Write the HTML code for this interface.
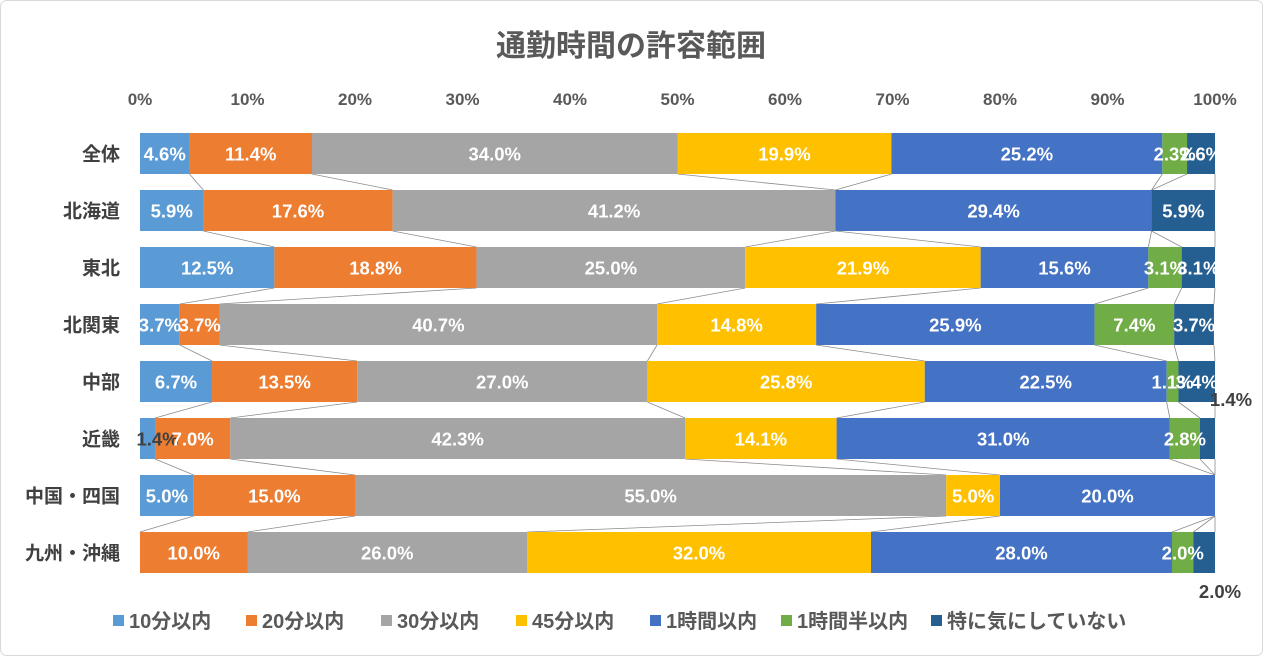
<!DOCTYPE html>
<html><head><meta charset="utf-8">
<style>
body{margin:0;background:#fff;}
svg{display:block;font-family:"Liberation Sans","Noto Sans CJK JP",sans-serif;}
</style></head>
<body>
<svg id="chart" width="1263" height="656" viewBox="0 0 1263 656" xmlns="http://www.w3.org/2000/svg">
<rect x="0.5" y="0.5" width="1262" height="655" rx="6" fill="#fff" stroke="#d9d9d9"/>
<text x="631" y="56" text-anchor="middle" font-size="30" font-weight="bold" fill="#595959">通勤時間の許容範囲</text>
<g id="axis"></g><g id="links"></g><g id="bars"></g><g id="labels"></g><g id="legend"></g>
</svg>
<script>
const categories=["全体","北海道","東北","北関東","中部","近畿","中国・四国","九州・沖縄"];
const seriesNames=["10分以内","20分以内","30分以内","45分以内","1時間以内","1時間半以内","特に気にしていない"];
const s10=[4.6,5.9,12.5,3.7,6.7,1.4,5.0,0];
const s20=[11.4,17.6,18.8,3.7,13.5,7.0,15.0,10.0];
const s30=[34.0,41.2,25.0,40.7,27.0,42.3,55.0,26.0];
const s45=[19.9,0,21.9,14.8,25.8,14.1,5.0,32.0];
const s60=[25.2,29.4,15.6,25.9,22.5,31.0,20.0,28.0];
const s90=[2.3,0,3.1,7.4,1.1,2.8,0,2.0];
const sNone=[2.6,5.9,3.1,3.7,3.4,1.4,0,2.0];
const ticks=[0,10,20,30,40,50,60,70,80,90,100];
const series=[s10,s20,s30,s45,s60,s90,sNone];
const colors=["#5B9BD5","#ED7D31","#A5A5A5","#FFC000","#4472C4","#70AD47","#255E91"];
const NS="http://www.w3.org/2000/svg";
const x0=140,x1=1215,rowTop=133,rowStep=57,barH=41;
const xs=v=>x0+(x1-x0)*v/100;
const yTop=i=>rowTop+i*rowStep;
function mk(tag,attrs,parent,txt){const e=document.createElementNS(NS,tag);for(const k in attrs)e.setAttribute(k,attrs[k]);if(txt!==undefined)e.textContent=txt;parent.appendChild(e);return e;}
const gA=document.getElementById('axis'),gL=document.getElementById('links'),gB=document.getElementById('bars'),gT=document.getElementById('labels'),gG=document.getElementById('legend');
ticks.forEach(t=>{const e=mk('text',{x:xs(t),y:105,'text-anchor':'middle','font-size':17,'font-weight':'bold',fill:'#595959'},gA,t+'%');

});
categories.forEach((c,i)=>{const e=mk('text',{x:120,y:yTop(i)+barH/2+7,'text-anchor':'end','font-size':19,'font-weight':'bold',fill:'#404040'},gA,c);

});
const cum=categories.map((c,i)=>{let s=0;return series.map(a=>{s+=a[i];return s;});});
for(let i=0;i<categories.length-1;i++){for(let k=0;k<series.length;k++){
const l=mk('line',{x1:xs(cum[i][k]),y1:yTop(i)+barH,x2:xs(cum[i+1][k]),y2:yTop(i+1),stroke:'#8c8c8c','stroke-width':0.8},gL);

}}
categories.forEach((c,i)=>{let acc=0;series.forEach((arr,k)=>{const v=arr[i];const a=acc;acc+=v;if(v<=0)return;
const r=mk('rect',{x:xs(a),y:yTop(i),width:xs(acc)-xs(a),height:barH,fill:colors[k]},gB);


let tx=(xs(a)+xs(acc))/2,ty=yTop(i)+barH/2+7,fill='#fff';
if(k===6&&v<=2.0&&i>=5){fill='#404040';tx=i===5?1231:1220;ty=i===5?yTop(i)-12:yTop(i)+barH+25;}
else if(k===0&&v<2){fill='#404040';tx+=10;}
const t=mk('text',{x:tx,y:ty,'text-anchor':'middle','font-size':18.5,'font-weight':'bold',fill:fill},gT,v.toFixed(1)+'%');

});});
const lx=[113,246,381,516,650,781,931];
seriesNames.forEach((n,k)=>{const r=mk('rect',{x:lx[k],y:615,width:11,height:11,fill:colors[k]},gG);


const t=mk('text',{x:lx[k]+16,y:628,'font-size':20,'font-weight':'bold',fill:'#595959'},gG,n);

});
</script>
</body></html>
